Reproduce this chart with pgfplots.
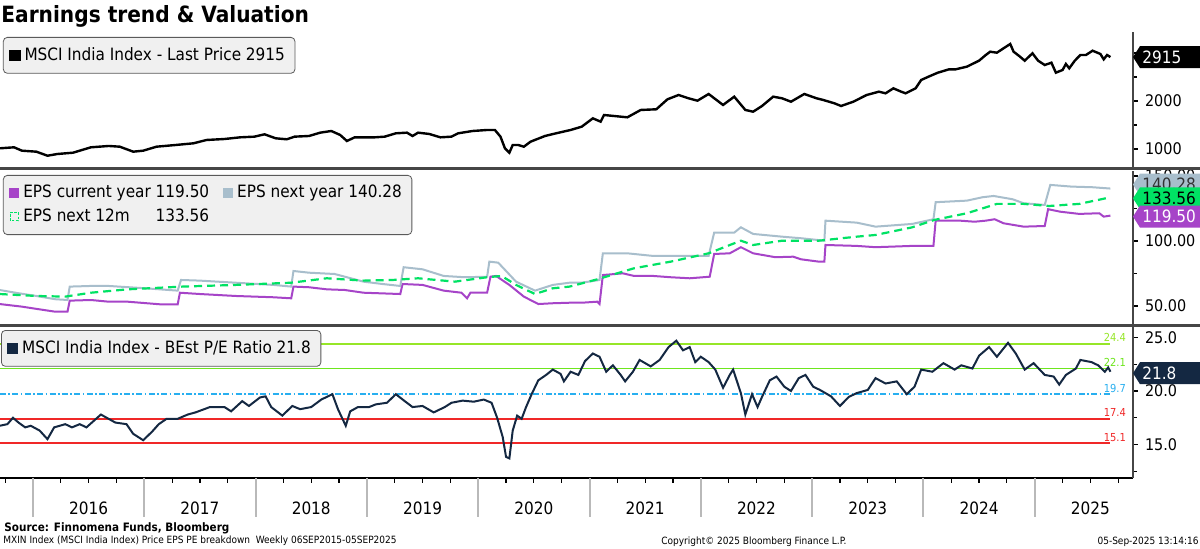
\documentclass[border=0pt]{standalone}
\usepackage{fontspec}
\setmainfont{DejaVu Sans Condensed}
\usepackage{pgfplots}
\pgfplotsset{compat=1.18}
\usetikzlibrary{calc}

\definecolor{epscur}{RGB}{166,68,200}
\definecolor{epsnext}{RGB}{168,190,204}
\definecolor{epsntm}{RGB}{0,226,100}
\definecolor{penavy}{RGB}{20,40,66}
\definecolor{lvlhi}{RGB}{150,230,40}
\definecolor{lvlmid}{RGB}{110,230,30}
\definecolor{lvlavg}{RGB}{40,175,240}
\definecolor{lvllo}{RGB}{240,40,40}
\definecolor{legfill}{RGB}{240,240,240}
\definecolor{legdraw}{RGB}{90,90,90}
\definecolor{sepgray}{RGB}{70,70,70}

\pgfplotsset{
  panel/.style={
    scale only axis, width=566.5pt,
    xmin=2015.7035, xmax=2025.883,
    axis y line*=right,
    axis line style={sepgray, line width=0.6pt},
    tick align=outside, major tick length=2.5pt, minor tick length=2pt,
    tick style={black, line width=0.7pt},
    yticklabel style={font=\fontsize{8}{9}\selectfont,
      /pgf/number format/assume math mode=true,
      /pgf/number format/1000 sep={}},
    clip=false,
    legend cell align=left,
    legend style={draw=legdraw, fill=legfill, rounded corners=2pt,
      font=\fontsize{8.5}{10}\selectfont, anchor=north west,
      inner xsep=3pt, inner ysep=3pt},
  },
}
\tikzset{
  hline/.style={line width=0.9pt},
  hlabel/.style={anchor=south, inner sep=0.8pt, font=\fontsize{5.5}{6}\selectfont},
}

% value tag at the right axis
\newcommand{\valtag}[5]{%
  \fill[#2] ($(#1)+(0,#5)$) -- ++(7,11) -- ++(60,0) -- ++(0,-22) -- ++(-60,0) -- cycle;
  \node[text=#3, anchor=west, inner sep=0pt, font=\fontsize{8.5}{10}\selectfont]
    at ($(#1)+(9,#5)$) {#4};}

\begin{document}
\begin{tikzpicture}[x=0.5pt, y=0.5pt]
\useasboundingbox[fill=white] (0,0) rectangle (1200,-549);

% ---------------- price ----------------
\begin{axis}[panel, axis x line=none, at={(0pt,-83.5pt)}, anchor=south west, height=67.5pt,
  ymin=625, ymax=3437.5, ytick={1000,2000}, minor ytick={1500,2500,3000},
  legend style={at={(0.0026,0.963)}}]
\addplot[black, line width=1.2pt,
  legend image code/.code={\fill[black, sharp corners] (0pt,-2.2pt) rectangle (4.4pt,2.2pt);}]
coordinates {
(2015.70,1014) (2015.83,1035) (2015.90,965) (2016.03,944) (2016.13,860)
(2016.22,896) (2016.36,923) (2016.52,1035) (2016.68,1063) (2016.78,1048)
(2016.90,944) (2016.99,965) (2017.11,1048) (2017.28,1083) (2017.44,1118)
(2017.56,1188) (2017.72,1208) (2017.86,1243) (2017.99,1257) (2018.08,1306)
(2018.18,1223) (2018.28,1202) (2018.35,1257) (2018.48,1271) (2018.58,1340)
(2018.68,1375) (2018.76,1292) (2018.82,1167) (2018.89,1243) (2019.07,1243)
(2019.16,1257) (2019.26,1327) (2019.36,1340) (2019.41,1271) (2019.46,1340)
(2019.56,1313) (2019.66,1243) (2019.76,1257) (2019.82,1327) (2019.95,1375)
(2020.08,1396) (2020.15,1396) (2020.20,1257) (2020.24,1014) (2020.28,923)
(2020.31,1083) (2020.36,1083) (2020.41,1048) (2020.47,1152) (2020.60,1271)
(2020.70,1327) (2020.83,1396) (2020.93,1465) (2021.03,1639) (2021.10,1569)
(2021.13,1708) (2021.34,1660) (2021.46,1813) (2021.60,1827) (2021.70,2035)
(2021.80,2125) (2021.89,2056) (2021.97,2006) (2022.07,2146) (2022.20,1917)
(2022.30,2090) (2022.40,1813) (2022.47,1777) (2022.55,1896) (2022.65,2090)
(2022.73,2056) (2022.81,1985) (2022.93,2146) (2023.04,2056) (2023.10,2021)
(2023.20,1952) (2023.26,1896) (2023.37,1985) (2023.49,2125) (2023.60,2194)
(2023.66,2160) (2023.73,2264) (2023.80,2194) (2023.84,2160) (2023.93,2264)
(2023.98,2438) (2024.06,2521) (2024.13,2590) (2024.23,2660) (2024.29,2660)
(2024.39,2715) (2024.50,2840) (2024.56,2958) (2024.60,3027) (2024.66,3006)
(2024.72,3098) (2024.78,3188) (2024.81,3027) (2024.86,2938) (2024.91,2840)
(2024.98,2994) (2025.03,2840) (2025.09,2750) (2025.15,2798) (2025.19,2590)
(2025.25,2646) (2025.28,2771) (2025.31,2681) (2025.36,2840) (2025.41,2958)
(2025.46,2958) (2025.52,3048) (2025.59,2979) (2025.62,2868) (2025.65,2958)
(2025.68,2915)
};
\addlegendentry{MSCI India Index - Last Price 2915}
\coordinate (tagpx) at (axis cs:2025.883,2915);
\end{axis}

% ---------------- EPS ----------------
\begin{axis}[panel, axis x line=none, at={(0pt,-162pt)}, anchor=south west, height=76.5pt,
  ymin=36.15, ymax=153.8, ytick={50,100,150}, minor ytick={75,125},
  yticklabel style={/pgf/number format/.cd, fixed, fixed zerofill, precision=2},
  legend columns=2,
  legend style={at={(0.0026,0.974)},
    /tikz/every even column/.append style={column sep=5pt}}]
\addplot[epscur, line width=1pt,
  legend image code/.code={\fill[epscur, sharp corners] (0pt,-2pt) rectangle (4pt,2pt);}]
coordinates {
(2015.70,51.5) (2015.90,49.5) (2016.06,47.4) (2016.20,45.6) (2016.31,45.6)
(2016.33,54.1) (2016.52,54.6) (2016.68,53.3) (2016.85,53.3) (2017.14,51.3)
(2017.30,51.3) (2017.32,60.2) (2017.50,59.2) (2017.82,57.7) (2018.16,56.7)
(2018.32,55.9) (2018.34,64.9) (2018.48,64.4) (2018.64,62.8) (2018.80,62.3)
(2018.97,60.2) (2019.30,59.2) (2019.32,66.9) (2019.50,66.2) (2019.69,61.8)
(2019.85,60.2) (2019.90,55.9) (2019.93,60.2) (2020.08,60.2) (2020.11,72.5)
(2020.16,73.1) (2020.28,66.2) (2020.41,57.2) (2020.54,51.5) (2020.67,52.1)
(2020.82,52.5) (2020.93,52.5) (2021.07,53.3) (2021.09,51.5) (2021.12,73.8)
(2021.30,75.1) (2021.40,73.1) (2021.57,73.1) (2021.73,72.1) (2021.90,71.3)
(2022.08,72.5) (2022.12,90.0) (2022.26,90.5) (2022.36,95.2) (2022.47,90.5)
(2022.67,87.5) (2022.83,87.9) (2022.90,85.9) (2023.06,84.1) (2023.11,84.1)
(2023.12,96.9) (2023.40,96.2) (2023.57,95.2) (2023.90,96.2) (2024.09,96.2)
(2024.11,115.6) (2024.33,115.6) (2024.46,114.8) (2024.56,115.6) (2024.64,116.7)
(2024.72,113.6) (2024.90,111.0) (2025.09,111.5) (2025.12,124.4) (2025.23,122.5)
(2025.40,120.8) (2025.58,121.3) (2025.62,118.7) (2025.68,119.5)
};
\addlegendentry{EPS current year 119.50}
\addplot[epsnext, line width=1pt,
  legend image code/.code={\fill[epsnext, sharp corners] (0pt,-2pt) rectangle (4pt,2pt);}]
coordinates {
(2015.70,62.3) (2015.87,59.8) (2016.03,57.7) (2016.20,55.2) (2016.31,54.6)
(2016.33,64.9) (2016.52,65.4) (2016.68,65.4) (2017.01,63.6) (2017.30,61.8)
(2017.33,70.0) (2017.50,69.5) (2017.82,67.9) (2018.16,66.2) (2018.32,64.9)
(2018.34,76.9) (2018.48,75.6) (2018.71,74.6) (2018.97,68.7) (2019.14,66.9)
(2019.30,65.4) (2019.33,79.8) (2019.50,78.2) (2019.69,73.1) (2019.88,72.1)
(2020.08,72.5) (2020.10,84.1) (2020.18,83.3) (2020.34,68.7) (2020.51,61.8)
(2020.67,66.2) (2020.82,67.9) (2020.93,67.9) (2021.09,70.0) (2021.12,90.5)
(2021.34,90.5) (2021.57,88.5) (2022.07,88.5) (2022.12,106.4) (2022.30,106.4)
(2022.36,110.5) (2022.47,105.4) (2022.73,103.3) (2022.90,102.1) (2023.11,100.2)
(2023.12,115.6) (2023.40,114.1) (2023.57,111.0) (2023.90,113.1) (2024.09,116.7)
(2024.11,129.8) (2024.39,131.0) (2024.53,133.6) (2024.63,134.6) (2024.80,132.1)
(2024.90,129.0) (2025.09,127.7) (2025.14,143.1) (2025.33,141.8) (2025.52,141.3)
(2025.68,140.3)
};
\addlegendentry{EPS next year 140.28}
\addplot[epsntm, line width=1.1pt, dash pattern=on 4pt off 2.5pt,
  legend image code/.code={\draw[epsntm, sharp corners, line width=0.5pt, dash pattern=on 1.2pt off 0.8pt] (0pt,-2pt) rectangle (4pt,2pt);}]
coordinates {
(2015.70,59.2) (2016.03,57.7) (2016.29,57.2) (2016.52,60.2) (2016.85,62.8)
(2017.34,64.9) (2017.82,66.2) (2018.32,67.9) (2018.64,71.3) (2018.97,69.5)
(2019.23,70.0) (2019.46,71.3) (2019.79,68.7) (2020.08,72.1) (2020.21,73.1)
(2020.34,66.2) (2020.51,59.2) (2020.67,63.6) (2020.82,64.9) (2021.07,70.5)
(2021.40,79.0) (2021.73,84.1) (2022.07,90.5) (2022.36,100.2) (2022.47,96.9)
(2022.73,100.2) (2023.06,100.2) (2023.40,103.3) (2023.57,104.6) (2023.90,110.5)
(2024.10,116.2) (2024.39,121.3) (2024.66,128.5) (2024.90,128.5) (2025.13,126.9)
(2025.40,128.5) (2025.60,132.1) (2025.68,133.6)
};
\addlegendentry{\rlap{EPS next 12m}\phantom{EPS current year }133.56}
\coordinate (tagnext) at (axis cs:2025.883,140.28);
\coordinate (tagntm) at (axis cs:2025.883,133.56);
\coordinate (tagcur) at (axis cs:2025.883,119.50);
\end{axis}

% ---------------- P/E ----------------
\begin{axis}[panel, at={(0pt,-239pt)}, anchor=south west, height=75.5pt,
  ymin=11.87, ymax=25.98, ytick={15,20,25}, minor ytick={12.5,17.5,22.5},
  yticklabel style={/pgf/number format/.cd, fixed, fixed zerofill, precision=1},
  axis x line*=bottom,
  x axis line style={black, line width=0.6pt},
  xtick={2016.5,2017.5,2018.5,2019.5,2020.5,2021.5,2022.5,2023.5,2024.5,2025.5},
  xticklabels={2016,2017,2018,2019,2020,2021,2022,2023,2024,2025},
  xtick style={draw=none},
  xticklabel style={font=\fontsize{8.5}{10}\selectfont, anchor=base, yshift=-16pt},
  legend style={at={(0.0009,0.980)}}]
\addplot[draw=lvlhi, hline, forget plot] coordinates {(2015.7035,24.4) (2025.68,24.4)};
\addplot[draw=lvlmid, hline, forget plot] coordinates {(2015.7035,22.1) (2025.68,22.1)};
\addplot[draw=lvlavg, hline, forget plot, dash pattern=on 3pt off 1.2pt on 0.8pt off 1.2pt] coordinates {(2015.7035,19.7) (2025.68,19.7)};
\addplot[draw=lvllo, hline, forget plot] coordinates {(2015.7035,17.4) (2025.68,17.4)};
\addplot[draw=lvllo, hline, line width=1pt, forget plot] coordinates {(2015.7035,15.1) (2025.68,15.1)};
\addplot[penavy, line width=1pt,
  legend image code/.code={\fill[penavy, sharp corners] (0pt,-2.2pt) rectangle (4.4pt,2.2pt);}]
coordinates {
(2015.70,16.75) (2015.77,16.9) (2015.82,17.5) (2015.87,17.05) (2015.93,16.6)
(2015.98,16.75) (2016.06,16.3) (2016.13,15.5) (2016.19,16.6) (2016.29,16.9)
(2016.35,16.6) (2016.42,16.9) (2016.48,16.6) (2016.61,17.8) (2016.74,17.05)
(2016.84,16.9) (2016.90,16.0) (2016.99,15.4) (2017.07,16.2) (2017.13,16.9)
(2017.20,17.4) (2017.30,17.4) (2017.39,17.8) (2017.46,18.0) (2017.59,18.5)
(2017.65,18.5) (2017.72,18.5) (2017.78,18.1) (2017.88,19.05) (2017.94,18.6)
(2018.04,19.4) (2018.09,19.5) (2018.14,18.5) (2018.24,17.7) (2018.33,18.6)
(2018.40,18.3) (2018.50,18.5) (2018.59,19.2) (2018.69,19.7) (2018.74,18.3)
(2018.81,16.75) (2018.85,18.1) (2018.92,18.5) (2019.02,18.5) (2019.08,18.75)
(2019.18,18.9) (2019.26,19.7) (2019.34,19.05) (2019.41,18.5) (2019.50,18.6)
(2019.60,18.0) (2019.70,18.5) (2019.76,18.9) (2019.86,19.1) (2019.96,19.0)
(2020.05,19.2) (2020.12,18.9) (2020.17,17.5) (2020.22,15.7) (2020.25,13.85)
(2020.28,13.7) (2020.31,16.3) (2020.35,17.7) (2020.39,17.4) (2020.43,18.5)
(2020.48,19.7) (2020.54,21.0) (2020.61,21.5) (2020.67,22.0) (2020.74,21.6)
(2020.77,20.9) (2020.83,21.8) (2020.90,21.5) (2020.96,22.8) (2021.03,23.5)
(2021.09,23.2) (2021.15,21.8) (2021.21,22.4) (2021.28,21.5) (2021.32,20.9)
(2021.39,21.8) (2021.45,22.9) (2021.55,22.3) (2021.63,22.9) (2021.71,24.1)
(2021.78,24.7) (2021.84,23.8) (2021.90,24.1) (2021.95,22.7) (2022.00,23.2)
(2022.07,22.7) (2022.13,22.0) (2022.20,20.3) (2022.26,21.5) (2022.29,22.0)
(2022.36,19.8) (2022.40,17.8) (2022.46,19.7) (2022.51,18.5) (2022.55,19.45)
(2022.62,21.0) (2022.68,21.35) (2022.75,20.4) (2022.81,20.0) (2022.88,21.2)
(2022.94,21.5) (2023.01,20.4) (2023.07,20.1) (2023.17,19.5) (2023.25,18.6)
(2023.33,19.45) (2023.40,19.8) (2023.50,20.1) (2023.57,21.2) (2023.66,20.7)
(2023.76,20.9) (2023.85,19.7) (2023.92,20.4) (2023.98,22.0) (2024.08,21.8)
(2024.18,22.6) (2024.28,22.0) (2024.34,22.4) (2024.44,22.1) (2024.50,23.3)
(2024.59,24.1) (2024.66,23.2) (2024.76,24.5) (2024.83,23.5) (2024.91,22.0)
(2024.99,22.6) (2025.09,21.5) (2025.17,21.35) (2025.22,20.6) (2025.28,21.5)
(2025.37,22.1) (2025.41,22.9) (2025.51,22.7) (2025.57,22.4) (2025.63,21.8)
(2025.66,22.2) (2025.68,21.8)
};
\addlegendentry{MSCI India Index - BEst P/E Ratio 21.8}
\node[hlabel, lvlhi] at (axis cs:2025.72,24.4) {24.4};
\node[hlabel, lvlmid] at (axis cs:2025.72,22.1) {22.1};
\node[hlabel, lvlavg] at (axis cs:2025.72,19.7) {19.7};
\node[hlabel, lvllo] at (axis cs:2025.72,17.4) {17.4};
\node[hlabel, lvllo] at (axis cs:2025.72,15.1) {15.1};
\coordinate (tagpe) at (axis cs:2025.883,21.8);
\end{axis}

% quarter ticks and year separators on the time axis
\foreach \q in {-1,...,39} \draw[black, line width=0.6pt] ({33+\q*27.825},-478) -- ++(0,-5);
\foreach \q in {0,...,9} \draw[gray!55, line width=1pt] ({33+\q*111.3},-478) -- ++(0,-39);

% panel separators
\draw[sepgray, line width=1.4pt] (0,-168.5) -- (1200,-168.5);
\draw[sepgray, line width=1.4pt] (0,-325.5) -- (1200,-325.5);

% value tags
\valtag{tagpx}{black}{white}{2915}{0}
\valtag{tagnext}{epsnext}{black!80}{140.28}{4}
\valtag{tagntm}{epsntm}{black}{133.56}{-1}
\valtag{tagcur}{epscur}{white}{119.50}{-1}
\valtag{tagpe}{penavy}{white}{21.8}{-1.5}

% titles and footer
\node[anchor=base west, inner sep=0pt, font=\fontsize{11.2}{13}\selectfont\bfseries] at (1,-23) {Earnings trend \& Valuation};
\node[anchor=base west, inner sep=0pt, font=\fontsize{5.8}{7}\selectfont\bfseries] at (4,-532) {Source: Finnomena Funds, Bloomberg};
\node[anchor=base west, inner sep=0pt, font=\fontsize{5}{6}\selectfont] at (3,-544) {MXIN Index (MSCI India Index) Price EPS PE breakdown\ \ Weekly 06SEP2015-05SEP2025};
\node[anchor=base west, inner sep=0pt, font=\fontsize{5}{6}\selectfont] at (661,-545) {Copyright© 2025 Bloomberg Finance L.P.};
\node[anchor=base east, inner sep=0pt, font=\fontsize{5}{6}\selectfont] at (1199,-545) {05-Sep-2025 13:14:16};
\end{tikzpicture}
\end{document}
